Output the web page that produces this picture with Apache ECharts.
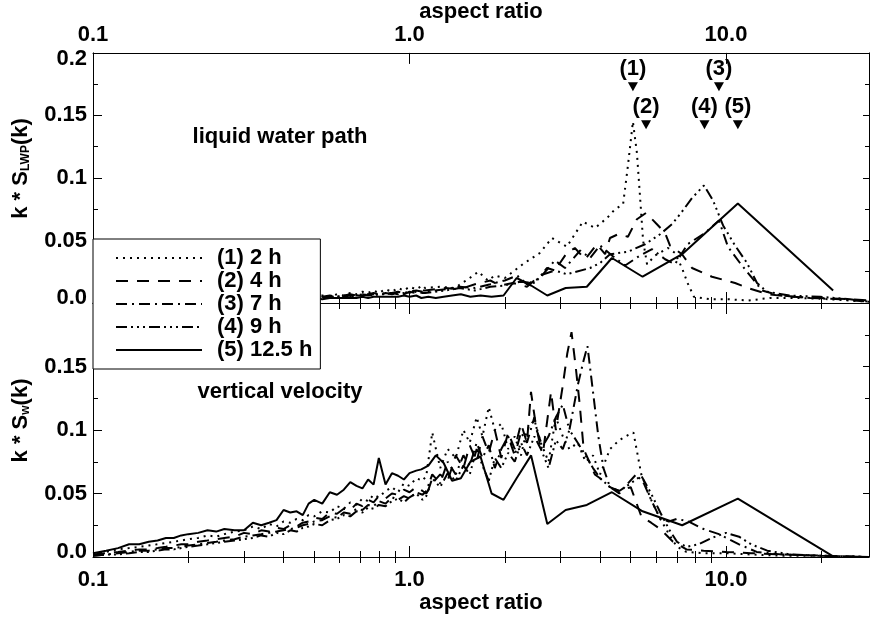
<!DOCTYPE html>
<html><head><meta charset="utf-8">
<script src="https://cdn.jsdelivr.net/npm/echarts@6/dist/echarts.min.js"></script>
<style>html,body{margin:0;padding:0;background:#fff}#c{width:870px;height:617px}</style>
</head><body><div id="c"></div>
<script>
// ---------------- data ----------------
const seriesNames = ['(1) 2 h', '(2) 4 h', '(3) 7 h', '(4) 9 h', '(5) 12.5 h'];
const xMajorTicks = [0.1, 1, 10];
const xMinorTicks = [0.2,0.3,0.4,0.5,0.6,0.7,0.8,0.9,2,3,4,5,6,7,8,9,20];
const xTickLabels = ['0.1', '1.0', '10.0'];

// shared low aspect-ratio sampling (0.1 .. 1.1)
const xLow = [0.10,0.11,0.12,0.13,0.14,0.15,0.16,0.17,0.18,0.19,0.20,0.215,0.23,0.245,0.26,0.28,0.30,0.32,0.34,0.36,0.38,0.40,0.42,0.44,0.46,0.48,0.50,0.53,0.56,0.59,0.62,0.65,0.68,0.71,0.74,0.77,0.80,0.84,0.88,0.92,0.96,1.00,1.05,1.10];
// 12.5 h run sampling (large scales)
const x5 = [1.09,1.147,1.211,1.282,1.363,1.453,1.557,1.677,1.817,1.982,2.18,2.422,2.725,3.114,3.633,4.36,5.45,7.267,10.9,21.8];

// liquid water path, low aspect ratios
const lwpLow1 = [0.000,0.001,0.000,0.001,0.001,0.001,0.002,0.001,0.002,0.002,0.002,0.001,0.002,0.003,0.002,0.003,0.003,0.002,0.004,0.003,0.004,0.004,0.003,0.005,0.004,0.005,0.005,0.006,0.005,0.007,0.006,0.008,0.007,0.009,0.008,0.010,0.008,0.011,0.009,0.012,0.010,0.013,0.011,0.014];
const lwpLow2 = [0.000,0.000,0.001,0.000,0.001,0.001,0.001,0.002,0.001,0.001,0.002,0.002,0.001,0.002,0.002,0.003,0.002,0.003,0.003,0.002,0.004,0.003,0.004,0.003,0.004,0.005,0.004,0.005,0.004,0.006,0.005,0.006,0.005,0.007,0.006,0.007,0.006,0.008,0.007,0.008,0.007,0.009,0.008,0.010];
const lwpLow3 = [0.000,0.001,0.001,0.000,0.001,0.001,0.001,0.001,0.002,0.001,0.002,0.002,0.002,0.002,0.003,0.002,0.003,0.003,0.003,0.004,0.003,0.004,0.004,0.004,0.005,0.004,0.005,0.005,0.006,0.005,0.006,0.007,0.006,0.007,0.007,0.008,0.007,0.008,0.008,0.009,0.008,0.009,0.010,0.009];
const lwpLow4 = [0.000,0.000,0.001,0.001,0.001,0.001,0.001,0.001,0.001,0.002,0.001,0.002,0.002,0.002,0.002,0.003,0.002,0.003,0.003,0.003,0.003,0.004,0.003,0.004,0.004,0.004,0.005,0.004,0.005,0.005,0.006,0.005,0.006,0.006,0.007,0.006,0.007,0.007,0.008,0.007,0.008,0.008,0.009,0.008];
const lwpLow5 = [0.000,0.000,0.000,0.001,0.001,0.001,0.001,0.001,0.001,0.001,0.002,0.001,0.002,0.002,0.002,0.002,0.002,0.002,0.003,0.002,0.003,0.003,0.003,0.003,0.003,0.003,0.004,0.003,0.004,0.004,0.004,0.004,0.004,0.005,0.004,0.005,0.005,0.005,0.005,0.005,0.006,0.005,0.006];

// liquid water path, large aspect ratios [aspect ratio, k*S]
const lwpHigh1 = [[1.12,0.012],[1.25,0.013],[1.39,0.012],[1.55,0.020],[1.65,0.025],[1.77,0.018],[1.86,0.022],[2.00,0.020],[2.28,0.031],[2.58,0.040],[2.82,0.052],[3.14,0.045],[3.53,0.065],[3.86,0.060],[4.21,0.068],[4.46,0.075],[4.73,0.079],[4.90,0.110],[5.08,0.145],[5.23,0.120],[5.35,0.085],[5.47,0.050],[5.63,0.031],[5.97,0.038],[6.56,0.044],[6.90,0.040],[7.26,0.028],[7.56,0.016],[7.92,0.005],[8.90,0.003],[10.14,0.003],[11.74,0.002],[13.77,0.004],[17.14,0.004],[21.32,0.003],[28.3,0.001]];
const lwpHigh2 = [[1.12,0.010],[1.30,0.012],[1.44,0.011],[1.61,0.015],[1.80,0.018],[1.93,0.014],[2.12,0.016],[2.35,0.013],[2.58,0.022],[2.88,0.026],[3.14,0.040],[3.33,0.044],[3.59,0.035],[3.91,0.047],[4.15,0.039],[4.30,0.052],[4.56,0.055],[4.90,0.053],[5.23,0.067],[5.59,0.072],[6.05,0.063],[6.42,0.056],[6.65,0.046],[7.26,0.039],[7.81,0.028],[9.03,0.021],[10.68,0.016],[11.74,0.012],[13.57,0.007],[15.93,0.005],[19.82,0.004],[24.66,0.003],[28.3,0.002]];
const lwpHigh3 = [[1.12,0.009],[1.30,0.011],[1.44,0.013],[1.61,0.012],[1.80,0.015],[2.00,0.018],[2.19,0.022],[2.35,0.015],[2.58,0.020],[2.88,0.034],[3.10,0.028],[3.46,0.042],[3.72,0.036],[4.00,0.046],[4.36,0.038],[4.80,0.030],[5.35,0.038],[5.84,0.043],[6.42,0.035],[6.90,0.031],[7.56,0.047],[8.58,0.056],[9.50,0.066],[10.14,0.045],[11.07,0.032],[12.08,0.020],[13.0,0.010],[14.81,0.006],[18.43,0.004],[22.93,0.003],[28.3,0.001]];
const lwpHigh4 = [[1.12,0.008],[1.30,0.010],[1.44,0.012],[1.61,0.010],[1.80,0.013],[2.00,0.014],[2.23,0.017],[2.49,0.016],[2.72,0.028],[3.14,0.023],[3.72,0.028],[4.00,0.032],[4.30,0.039],[4.90,0.041],[5.55,0.047],[6.19,0.055],[6.75,0.063],[7.26,0.073],[7.81,0.084],[8.52,0.094],[9.10,0.082],[9.79,0.062],[10.68,0.046],[11.65,0.032],[12.53,0.016],[13.47,0.009],[15.93,0.006],[19.82,0.005],[24.66,0.003],[28.3,0.001]];
const lwpHigh5 = [0.004,0.005,0.004,0.005,0.006,0.007,0.005,0.006,0.005,0.006,0.020,0.014,0.006,0.012,0.013,0.036,0.021,0.039,0.0795,0.010];

// vertical velocity, low aspect ratios
const wLow1 = [0.003,0.004,0.006,0.007,0.008,0.009,0.010,0.011,0.012,0.013,0.014,0.015,0.017,0.016,0.018,0.020,0.021,0.024,0.022,0.026,0.024,0.028,0.027,0.030,0.029,0.033,0.032,0.036,0.035,0.040,0.038,0.043,0.041,0.046,0.044,0.049,0.047,0.052,0.055,0.051,0.058,0.056,0.062,0.060];
const wLow2 = [0.002,0.003,0.004,0.005,0.006,0.006,0.007,0.008,0.009,0.010,0.010,0.012,0.013,0.014,0.015,0.016,0.019,0.018,0.021,0.020,0.023,0.022,0.025,0.024,0.027,0.028,0.031,0.030,0.035,0.034,0.038,0.037,0.042,0.040,0.045,0.043,0.048,0.046,0.050,0.049,0.053,0.051,0.055,0.052];
const wLow3 = [0.001,0.002,0.003,0.004,0.005,0.005,0.006,0.007,0.007,0.008,0.009,0.010,0.011,0.012,0.013,0.014,0.016,0.017,0.018,0.019,0.020,0.021,0.022,0.023,0.025,0.026,0.028,0.029,0.032,0.031,0.035,0.034,0.038,0.037,0.041,0.040,0.044,0.042,0.047,0.045,0.048,0.046,0.051,0.049];
const wLow4 = [0.001,0.002,0.002,0.003,0.004,0.004,0.005,0.006,0.006,0.007,0.008,0.009,0.010,0.011,0.012,0.013,0.014,0.015,0.017,0.016,0.019,0.018,0.021,0.020,0.023,0.024,0.026,0.025,0.029,0.030,0.033,0.032,0.036,0.035,0.039,0.038,0.041,0.040,0.044,0.046,0.043,0.047,0.050,0.045];
const wLow5 = [0.003,0.005,0.007,0.010,0.010,0.012,0.013,0.015,0.015,0.017,0.018,0.019,0.021,0.020,0.022,0.021,0.021,0.027,0.025,0.027,0.029,0.037,0.035,0.036,0.033,0.042,0.045,0.042,0.051,0.049,0.053,0.059,0.056,0.054,0.061,0.057,0.078,0.057,0.066,0.064,0.061,0.066,0.068];

// vertical velocity, large aspect ratios
const wHigh1 = [[1.13,0.064],[1.18,0.098],[1.25,0.070],[1.32,0.085],[1.40,0.078],[1.48,0.100],[1.55,0.090],[1.63,0.110],[1.70,0.095],[1.78,0.118],[1.86,0.100],[1.95,0.105],[2.05,0.085],[2.15,0.095],[2.25,0.080],[2.35,0.100],[2.48,0.108],[2.60,0.090],[2.75,0.075],[2.90,0.110],[3.05,0.095],[3.20,0.085],[3.40,0.090],[3.60,0.075],[3.80,0.080],[4.00,0.065],[4.30,0.085],[4.60,0.092],[4.90,0.096],[5.10,0.098],[5.40,0.065],[5.80,0.045],[6.20,0.030],[6.60,0.018],[7.00,0.008],[7.50,0.004],[8.50,0.003],[10.0,0.003],[12.0,0.002],[15.0,0.001],[20.0,0.001],[28.3,0.000]];
const wHigh2 = [[1.13,0.050],[1.18,0.058],[1.25,0.065],[1.32,0.060],[1.40,0.080],[1.48,0.070],[1.55,0.088],[1.63,0.075],[1.70,0.095],[1.78,0.082],[1.86,0.100],[1.95,0.078],[2.05,0.098],[2.15,0.085],[2.25,0.105],[2.35,0.090],[2.42,0.130],[2.52,0.100],[2.65,0.085],[2.80,0.130],[2.90,0.100],[3.05,0.135],[3.15,0.160],[3.25,0.177],[3.35,0.150],[3.45,0.120],[3.55,0.085],[3.70,0.075],[3.85,0.065],[4.00,0.062],[4.30,0.055],[4.60,0.052],[5.00,0.055],[5.40,0.032],[5.80,0.027],[6.20,0.022],[6.80,0.012],[7.50,0.006],[8.50,0.005],[10.0,0.004],[12.0,0.003],[15.0,0.002],[20.0,0.001],[28.3,0.000]];
const wHigh3 = [[1.13,0.052],[1.18,0.065],[1.25,0.058],[1.32,0.075],[1.40,0.065],[1.48,0.080],[1.55,0.072],[1.63,0.090],[1.70,0.078],[1.78,0.088],[1.86,0.070],[1.95,0.085],[2.05,0.095],[2.15,0.080],[2.25,0.098],[2.35,0.090],[2.48,0.110],[2.60,0.085],[2.75,0.095],[2.90,0.110],[3.05,0.120],[3.20,0.100],[3.40,0.135],[3.55,0.155],[3.65,0.166],[3.80,0.130],[3.95,0.095],[4.10,0.070],[4.30,0.055],[4.60,0.050],[4.90,0.058],[5.20,0.065],[5.50,0.058],[5.80,0.045],[6.20,0.030],[6.60,0.028],[7.00,0.030],[7.60,0.028],[8.50,0.022],[9.50,0.018],[11.0,0.010],[12.5,0.004],[15.0,0.002],[20.0,0.001],[28.3,0.000]];
const wHigh4 = [[1.13,0.048],[1.18,0.062],[1.25,0.055],[1.32,0.066],[1.40,0.060],[1.48,0.072],[1.55,0.065],[1.63,0.085],[1.70,0.072],[1.78,0.060],[1.86,0.078],[1.95,0.070],[2.05,0.082],[2.15,0.075],[2.25,0.090],[2.35,0.080],[2.48,0.095],[2.60,0.085],[2.75,0.070],[2.90,0.092],[3.05,0.085],[3.20,0.100],[3.40,0.090],[3.60,0.080],[3.80,0.070],[4.00,0.062],[4.30,0.055],[4.60,0.052],[5.00,0.058],[5.40,0.064],[5.80,0.050],[6.20,0.035],[6.60,0.022],[7.00,0.012],[7.50,0.008],[8.20,0.010],[9.00,0.015],[10.0,0.019],[11.0,0.016],[12.0,0.010],[13.5,0.005],[16.0,0.002],[20.0,0.001],[28.3,0.000]];
const wHigh5 = [0.069,0.072,0.080,0.074,0.060,0.062,0.075,0.079,0.050,0.045,0.062,0.080,0.026,0.037,0.041,0.051,0.036,0.025,0.046,0.0005];

// peak annotations
const peakLabels = ['(1)', '(2)', '(3)', '(4)', '(5)'];
const peakX = [5.08, 5.59, 9.50, 8.55, 10.9];
const peakY = [0.173, 0.1425, 0.173, 0.1425, 0.1425];

// ---------------- chart ----------------
const FONT = '"Liberation Sans", Arial, Helvetica, sans-serif';
const BLACK = '#000';
const dashTypes = [[2, 5], [12, 9], [11, 5, 2, 5], [11, 4, 2, 4, 2, 4, 2, 4], 'solid'];
const zipLow = (vals, xs) => vals.map((v, i) => [xs[i], v]);

const lwpData = [
  zipLow(lwpLow1, xLow).concat(lwpHigh1),
  zipLow(lwpLow2, xLow).concat(lwpHigh2),
  zipLow(lwpLow3, xLow).concat(lwpHigh3),
  zipLow(lwpLow4, xLow).concat(lwpHigh4),
  zipLow(lwpLow5, xLow).concat(zipLow(lwpHigh5, x5))
];
const wData = [
  zipLow(wLow1, xLow).concat(wHigh1),
  zipLow(wLow2, xLow).concat(wHigh2),
  zipLow(wLow3, xLow).concat(wHigh3),
  zipLow(wLow4, xLow).concat(wHigh4),
  zipLow(wLow5, xLow).concat(zipLow(wHigh5, x5))
];

const gridRect = [
  { left: 93, right: 1, top: 49, height: 254 },
  { left: 93, right: 1, top: 303, height: 254 }
];
const grids = [gridRect[0], gridRect[1], gridRect[0], gridRect[1]];

const txt = { fontFamily: FONT, fontWeight: 'bold', fontSize: 22, color: BLACK };
const xFmt = v => { const i = xMajorTicks.indexOf(+v); return i >= 0 ? xTickLabels[i] : ''; };
const logBase = { type: 'log', logBase: 10, min: 0.1, max: 28.3, splitLine: { show: false } };

function xMain(gridIndex, position, labels, nameGap, margin) {
  return Object.assign({}, logBase, {
    gridIndex, position,
    axisLine: { show: true, onZero: false, lineStyle: { color: BLACK, width: 1 } },
    axisTick: { show: true, inside: true, length: 11, customValues: xMajorTicks, lineStyle: { color: BLACK, width: 1 } },
    axisLabel: { show: labels, margin: margin || 8, customValues: xMajorTicks, formatter: xFmt, ...txt },
    name: labels ? 'aspect ratio' : '', nameLocation: 'middle', nameGap: nameGap || 30,
    nameTextStyle: txt
  });
}
function xMinor(gridIndex, position) {
  return Object.assign({}, logBase, {
    gridIndex, position,
    axisLine: { show: false },
    axisTick: { show: true, inside: true, length: 6, customValues: xMinorTicks, lineStyle: { color: BLACK, width: 1 } },
    axisLabel: { show: false }
  });
}
const yFmtTop = v => v === 0 ? '{z|0.0}' : (Math.abs(v - 0.2) < 1e-9 ? '{t|0.2}' : String(+v.toFixed(2)));
const yFmtBot = v => v === 0 ? '{z|0.0}' : (Math.abs(v - 0.2) < 1e-9 ? '' : String(+v.toFixed(2)));
const richY = {
  z: { ...txt, padding: [0, 0, 10, 0] },
  t: { ...txt, padding: [12, 0, 0, 0] }
};
function yLeft(gridIndex, fmt, name) {
  return {
    type: 'value', gridIndex, position: 'left', min: 0, max: 0.2, interval: 0.05,
    splitLine: { show: false },
    axisLine: { show: true, onZero: false, lineStyle: { color: BLACK, width: 1 } },
    axisTick: { show: true, inside: true, length: 9, lineStyle: { color: BLACK } },
    minorTick: { show: true, splitNumber: 2, length: 5, lineStyle: { color: BLACK } },
    axisLabel: { show: true, margin: 6, formatter: fmt, ...txt, rich: richY },
    name, nameLocation: 'middle', nameRotate: 90, nameGap: 61,
    nameTextStyle: {
      padding: [0, 0, 0, 19],
      rich: {
        a: { ...txt },
        s: { fontFamily: FONT, fontWeight: 'bold', fontSize: 12, color: BLACK, verticalAlign: 'bottom' }
      }
    }
  };
}
function yRight(gridIndex) {
  return {
    type: 'value', gridIndex, position: 'right', min: 0, max: 0.2, interval: 0.05,
    splitLine: { show: false },
    axisLine: { show: true, onZero: false, lineStyle: { color: BLACK, width: 1 } },
    axisTick: { show: true, inside: true, length: 6, lineStyle: { color: BLACK } },
    minorTick: { show: true, splitNumber: 2, length: 4, lineStyle: { color: BLACK } },
    axisLabel: { show: false }
  };
}

const series = [];
for (let i = 0; i < 5; i++) {
  const ls = { color: BLACK, width: 2, type: dashTypes[i] };
  series.push({ name: seriesNames[i], type: 'line', xAxisIndex: 0, yAxisIndex: 0, data: lwpData[i],
    symbol: 'none', showSymbol: false, lineStyle: ls, itemStyle: { color: BLACK }, animation: false, z: 3 });
  series.push({ name: seriesNames[i], type: 'line', xAxisIndex: 2, yAxisIndex: 2, data: wData[i],
    symbol: 'none', showSymbol: false, lineStyle: ls, itemStyle: { color: BLACK }, animation: false, z: 3 });
}
series.push({
  name: 'peaks', type: 'scatter', xAxisIndex: 0, yAxisIndex: 0,
  data: peakX.map((x, i) => ({ value: [x, peakY[i]], name: peakLabels[i] })),
  symbol: 'triangle', symbolRotate: 180, symbolSize: [10, 9],
  itemStyle: { color: BLACK, opacity: 1 },
  label: { show: true, position: 'top', distance: 2, formatter: p => p.name, ...txt, opacity: 1 },
  animation: false, z: 5
});

const option = {
  backgroundColor: '#fff',
  animation: false,
  grid: grids,
  xAxis: [
    xMain(0, 'top', true, 27, 7),
    xMain(0, 'bottom', false),
    xMain(1, 'top', false),
    xMain(1, 'bottom', true, 34, 12),
    xMinor(2, 'top'), xMinor(2, 'bottom'), xMinor(3, 'top'), xMinor(3, 'bottom')
  ],
  yAxis: [
    yLeft(0, yFmtTop, '{a|k * S}{s|LWP}{a|(k)}'),
    yRight(0),
    yLeft(1, yFmtBot, '{a|k * S}{s|w}{a|(k)}'),
    yRight(1),
    { type: 'value', gridIndex: 2, min: 0, max: 0.2, show: false },
    { type: 'value', gridIndex: 3, min: 0, max: 0.2, show: false }
  ],
  legend: {
    data: seriesNames, orient: 'vertical', left: 93, top: 239,
    itemWidth: 86, itemHeight: 20, itemGap: 1,
    padding: [8, 8, 8, 22],
    backgroundColor: '#fff', borderColor: BLACK, borderWidth: 1, borderRadius: 0,
    itemStyle: { color: 'rgba(0,0,0,0)', borderColor: 'rgba(0,0,0,0)', borderWidth: 0, opacity: 0 },
    textStyle: { ...txt, fontSize: 22, padding: [0, 0, 0, 10] },
    selectedMode: false, z: 10
  },
  graphic: [
    { type: 'text', x: 280, y: 137, z: 20, style: { text: 'liquid water path', align: 'center', verticalAlign: 'middle', font: 'bold 22px ' + FONT, fill: BLACK } },
    { type: 'text', x: 280, y: 392, z: 20, style: { text: 'vertical velocity', align: 'center', verticalAlign: 'middle', font: 'bold 22px ' + FONT, fill: BLACK } }
  ],
  series
};
const chart = echarts.init(document.getElementById('c'), null, { renderer: 'canvas' });
chart.setOption(option);
</script>
</body></html>
